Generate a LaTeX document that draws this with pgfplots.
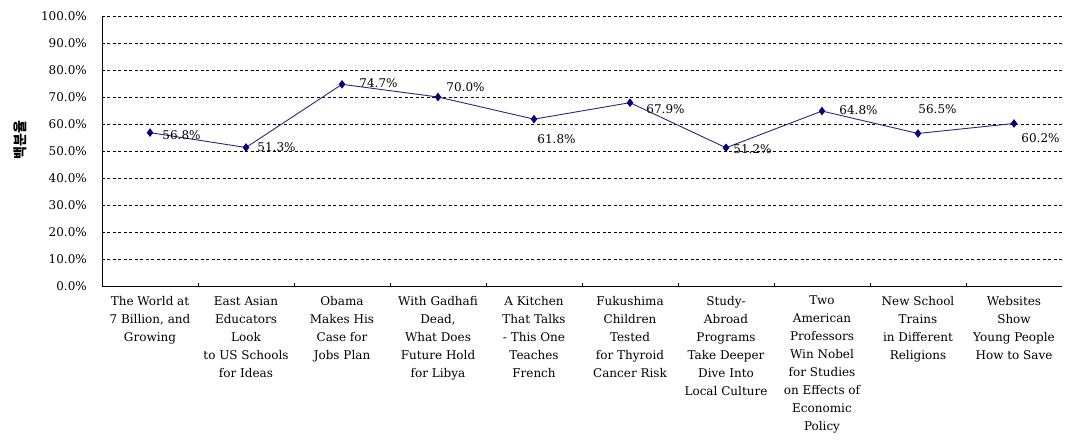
\documentclass[border=0pt]{standalone}
\usepackage{pgfplots}
\pgfplotsset{compat=1.18}
\usepackage{pgfplotstable}
\usepackage{fontspec}
\setmainfont{DejaVu Serif}
\newfontfamily\krfont{Noto Sans CJK KR}

\definecolor{navy}{RGB}{0,0,128}
\definecolor{linenavy}{RGB}{40,40,120}

% x, share, label offset (dx, dy in pt from the point to the label's west side)
\pgfplotstableread{
x  y     dx  dy
1  56.8  12  -2
2  51.3  11   0
3  74.7  17   1.6
4  70.0   8  10
5  61.8   3  -20
6  67.9  16  -6
7  51.2   7  -1.6
8  64.8  17   1
9  56.5   0  24
10 60.2   7  -15
}\shares

\begin{document}
\fontsize{12}{14}\selectfont
\begin{tikzpicture}
\begin{axis}[
  scale only axis,
  width=960pt, height=270pt,
  xmin=0.5, xmax=10.5,
  ymin=0, ymax=100,
  axis x line*=bottom,
  axis y line*=left,
  axis line style={-, black, line width=0.9pt},
  xtick={1,...,10},
  major tick length=0pt,
  xticklabels={
    {The World at\\7 Billion, and\\Growing},
    {East Asian\\Educators\\Look\\to US Schools\\for Ideas},
    {Obama\\Makes His\\Case for\\Jobs Plan},
    {With Gadhafi\\Dead,\\What Does\\Future Hold\\for Libya},
    {A Kitchen\\That Talks\\- This One\\Teaches\\French},
    {Fukushima\\Children\\Tested\\for Thyroid\\Cancer Risk},
    {Study-\\Abroad\\Programs\\Take Deeper\\Dive Into\\Local Culture},
    {Two\\American\\Professors\\Win Nobel\\for Studies\\on Effects of\\Economic\\Policy},
    {New School\\Trains\\in Different\\Religions},
    {Websites\\Show\\Young People\\How to Save}},
  x tick label style={align=center, anchor=north, yshift=-6pt,
    font=\fontsize{12}{18}\selectfont},
  ytick={0,10,...,100},
  yticklabels={0.0\%,10.0\%,20.0\%,30.0\%,40.0\%,50.0\%,60.0\%,70.0\%,80.0\%,90.0\%,100.0\%},
  y tick label style={anchor=east, xshift=-11pt, font=\fontsize{12}{14}\selectfont},
  ymajorgrids,
  y grid style={black, line width=0.8pt, dash pattern=on 3pt off 2.5pt},
  ylabel={\krfont\bfseries 백분율},
  ylabel style={at={(axis description cs:-0.085,0.54)}, anchor=center,
    font=\fontsize{14}{16}\selectfont},
  clip=false,
  /pgf/number format/assume math mode=true,
]
% short inward ticks between the categories
\pgfplotsinvokeforeach{1,...,9}{
  \draw[black, line width=0.8pt] (axis cs:#1.5,0) -- ++(0pt,3.5pt);
}
\addplot[color=linenavy, line width=0.9pt, mark=diamond*, mark size=3.6pt,
  mark options={fill=navy, draw=navy},
  point meta=y,
  visualization depends on={\thisrow{dx} \as \dx},
  visualization depends on={\thisrow{dy} \as \dy},
  nodes near coords={\pgfmathprintnumber[fixed,fixed zerofill,precision=1]{\pgfplotspointmeta}\%},
  nodes near coords style={anchor=west, inner sep=0pt, text=black,
    xshift=\dx pt, yshift=\dy pt, font=\fontsize{12}{14}\selectfont},
] table[x=x, y=y] {\shares};
\end{axis}
\pgfresetboundingbox
\path[use as bounding box] (-102pt,-154pt) rectangle (963pt,286pt);
\end{tikzpicture}
\end{document}
